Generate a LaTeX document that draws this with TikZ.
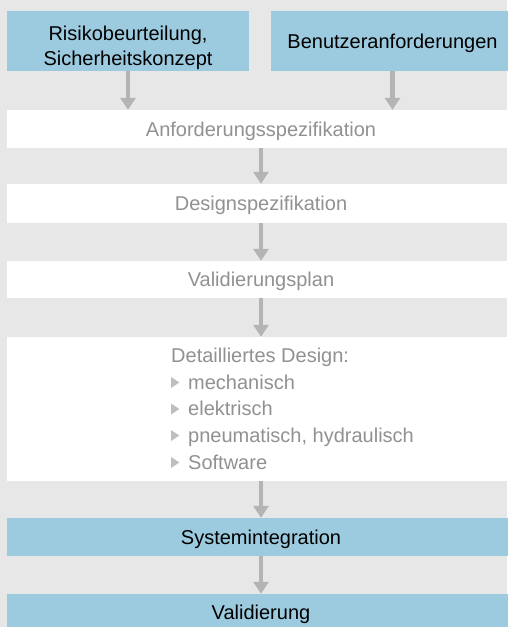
\documentclass[tikz,border=0pt]{standalone}
\usepackage{fontspec}
\setmainfont{Liberation Sans}
\usetikzlibrary{arrows.meta}
\definecolor{bggray}{RGB}{231,231,231}
\definecolor{boxblue}{RGB}{156,202,222}
\definecolor{txtgray}{RGB}{145,145,145}
\definecolor{arrgray}{RGB}{180,180,180}
\definecolor{bulgray}{RGB}{190,190,190}
\begin{document}
\begin{tikzpicture}[x=1pt,y=-1pt,
  txtfont/.style={font=\fontsize{20}{25.5}\selectfont},
  bluebox/.style={fill=boxblue, inner sep=0pt, txtfont, text=black, text height=14.3pt, text depth=0pt},
  band/.style={fill=white, inner sep=0pt, txtfont, text=txtgray, minimum width=508pt, text height=14.3pt, text depth=0pt},
  listline/.style={anchor=base west, inner sep=0pt, txtfont, text=txtgray},
  arr/.style={draw=arrgray, line width=4.5pt, -{Triangle[width=15pt,length=12pt]}},
  bullet/.style={fill=bulgray}
]
\useasboundingbox (0,0) rectangle (507,627);
\fill[bggray] (0,0) rectangle (507,627);

% top boxes
\node[bluebox, minimum width=242pt, minimum height=60pt] (risk) at (128,41) {};
\node[inner sep=0pt, txtfont, text=black, align=center] (risktxt) at (128,48) {Risikobeurteilung,\\Sicherheitskonzept};
\node[bluebox, minimum width=243pt, minimum height=60pt] (user) at (392.5,41) {Benutzeranforderungen};

% bands
\node[band, minimum height=38pt] (anf) at (261,129) {Anforderungsspezifikation};
\node[band, minimum height=39pt] (des) at (261,203.5) {Designspezifikation};
\node[band, minimum height=37pt] (valp) at (261,279.5) {Validierungsplan};
\node[band, minimum height=144pt] (det) at (261,409) {};
\node[bluebox, minimum width=508pt, minimum height=38pt] (sys) at (261,537) {Systemintegration};
\node[bluebox, minimum width=508pt, minimum height=36pt] (vali) at (261,612) {Validierung};

% detailed design list
\node[listline] (l0) at (171,362) {Detailliertes Design:};
\node[listline] (l1) at (188,389) {mechanisch};
\node[listline] (l2) at (188,415.5) {elektrisch};
\node[listline] (l3) at (188,442) {pneumatisch, hydraulisch};
\node[listline] (l4) at (188,469) {Software};
\foreach \b in {389,415.5,442,469}{
  \fill[bullet] (171,\b-12) -- (179.3,\b-6.5) -- (171,\b-1) -- cycle;
}

% arrows
\draw[arr] (risk.south) -- (risk.south |- anf.north);
\draw[arr] (user.south) -- (user.south |- anf.north);
\draw[arr] (anf.south) -- (des.north);
\draw[arr] (des.south) -- (valp.north);
\draw[arr] (valp.south) -- (det.north);
\draw[arr] (det.south) -- (sys.north);
\draw[arr] (sys.south) -- (vali.north);
\end{tikzpicture}
\end{document}
